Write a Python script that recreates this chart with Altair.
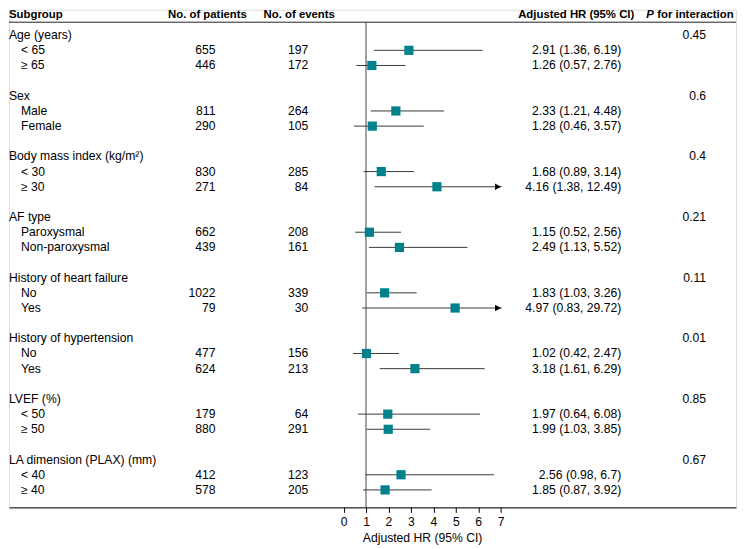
import altair as alt
import pandas as pd

# ---------------- data ----------------
groups = ["Age (years)", "Sex", "Body mass index (kg/m\u00b2)", "AF type",
          "History of heart failure", "History of hypertension", "LVEF (%)",
          "LA dimension (PLAX) (mm)"]
p_values = ["0.45", "0.6", "0.4", "0.21", "0.11", "0.01", "0.85", "0.67"]

sub_labels = ["< 65", "\u2265 65", "Male", "Female", "< 30", "\u2265 30",
              "Paroxysmal", "Non-paroxysmal", "No", "Yes", "No", "Yes",
              "< 50", "\u2265 50", "< 40", "\u2265 40"]
patients = [655, 446, 811, 290, 830, 271, 662, 439, 1022, 79, 477, 624, 179, 880, 412, 578]
events = [197, 172, 264, 105, 285, 84, 208, 161, 339, 30, 156, 213, 64, 291, 123, 205]
hr = [2.91, 1.26, 2.33, 1.28, 1.68, 4.16, 1.15, 2.49, 1.83, 4.97, 1.02, 3.18, 1.97, 1.99, 2.56, 1.85]
ci_low = [1.36, 0.57, 1.21, 0.46, 0.89, 1.38, 0.52, 1.13, 1.03, 0.83, 0.42, 1.61, 0.64, 1.03, 0.98, 0.87]
ci_high = [6.19, 2.76, 4.48, 3.57, 3.14, 12.49, 2.56, 5.52, 3.26, 29.72, 2.47, 6.29, 6.08, 3.85, 6.7, 3.92]
x_ticks = [0, 1, 2, 3, 4, 5, 6, 7]

# ---------------- tables ----------------
AXIS_END = 7
df_g = pd.DataFrame({"label": groups, "p": p_values,
                     "row": [4 * i for i in range(len(groups))]})
df_s = pd.DataFrame({
    "label": sub_labels, "patients": patients, "events": events,
    "hr": hr, "lo": ci_low, "hi": ci_high,
    "row": [4 * (i // 2) + 1 + i % 2 for i in range(len(sub_labels))],
})
df_s["hr_text"] = [f"{h:g} ({l:g}, {u:g})" for h, l, u in zip(hr, ci_low, ci_high)]
df_s["hi_plot"] = [min(u, AXIS_END + 0.05) for u in ci_high]
df_arrow = df_s[df_s["hi"] > AXIS_END].assign(tip=AXIS_END - 0.12)
one = pd.DataFrame({"k": [0]})

# ---------------- layout ----------------
W, H = 729, 499
ZERO_PX, PX_PER = 335.5, 22.5
x_dom = [-ZERO_PX / PX_PER, (W - ZERO_PX) / PX_PER]
ROW0, STEP = 25.5, 15.2
y_dom = [-ROW0 / STEP, (H - ROW0) / STEP]
HEADER_ROW = (5.5 - ROW0) / STEP
HLINE_ROW = (12.5 - ROW0) / STEP

FONT = "Liberation Sans"
FS = 12.2
HFS = 11.4
TEAL = "#00818b"
LINE = "#3a3a3a"
TITLE = "Adjusted HR (95% CI)"

xscale = alt.Scale(domain=x_dom, nice=False, zero=False)
yscale = alt.Scale(domain=y_dom, reverse=True, nice=False, zero=False)
xaxis = alt.Axis(values=x_ticks, format="d", grid=False, domain=True,
                 domainColor="black", domainWidth=1, tickColor="black",
                 tickSize=5, labelFontSize=FS, labelColor="black",
                 labelPadding=3, labelFlush=False, titleFontWeight="normal",
                 titleFontSize=FS, titleColor="black", titlePadding=4,
                 titleX=ZERO_PX + 3.5 * PX_PER, titleAlign="center")


def X(field):
    return alt.X(field, type="quantitative", scale=xscale, axis=xaxis, title=TITLE)


def Y(field="row"):
    return alt.Y(field, type="quantitative", scale=yscale, axis=None)


def Yd(v):
    return alt.Y(datum=v, type="quantitative", scale=yscale, axis=None)


def header(text, x, align, italic=False):
    return alt.Chart(one).mark_text(
        text=text, align=align, baseline="middle", fontWeight="bold",
        fontSize=HFS, font=FONT, color="black",
        fontStyle="italic" if italic else "normal",
    ).encode(x=alt.value(x), y=Yd(HEADER_ROW))


def col_text(df, field, x, align):
    return alt.Chart(df).mark_text(align=align, baseline="middle", fontSize=FS,
                                   font=FONT, color="black").encode(
        x=alt.value(x), y=Y(), text=f"{field}:N")


layers = [
    header("Subgroup", 0, "left"),
    header("No. of patients", 199, "center"),
    header("No. of events", 291, "center"),
    header("Adjusted HR (95% CI)", 627, "right"),
    header("P", 639, "left", italic=True),
    header("for interaction", 650, "left"),
    # header line
    alt.Chart(one).mark_rule(color="#222222", strokeWidth=1).encode(
        x=alt.value(0), x2=alt.value(W), y=Yd(HLINE_ROW)),
    # reference line at HR = 1
    alt.Chart(one).mark_rule(color="#444444", strokeWidth=1).encode(
        x=alt.X(datum=1, type="quantitative", scale=xscale, axis=xaxis, title=TITLE),
        y=Yd(HLINE_ROW), y2=alt.Y2(datum=y_dom[1])),
    # group labels and p-values
    col_text(df_g, "label", 0, "left"),
    col_text(df_g, "p", 699, "right"),
    # subgroup rows
    col_text(df_s, "label", 12, "left"),
    col_text(df_s, "patients", 207, "right"),
    col_text(df_s, "events", 300, "right"),
    col_text(df_s, "hr_text", 614, "right"),
    # CIs
    alt.Chart(df_s).mark_rule(color=LINE, strokeWidth=1).encode(
        x=X("lo"), x2=alt.X2("hi_plot"), y=Y()),
    alt.Chart(df_arrow).mark_point(shape="triangle-right", filled=True,
                                   color="black", size=45, opacity=1).encode(
        x=X("tip"), y=Y()),
    # point estimates
    alt.Chart(df_s).mark_square(size=85, color=TEAL, opacity=1).encode(
        x=X("hr"), y=Y()),
]

chart = alt.layer(*layers).properties(
    width=W, height=H, padding=0
).configure_view(stroke=None).configure(font=FONT)

chart.save("out.html", embed_options={"renderer": "svg", "actions": False})
